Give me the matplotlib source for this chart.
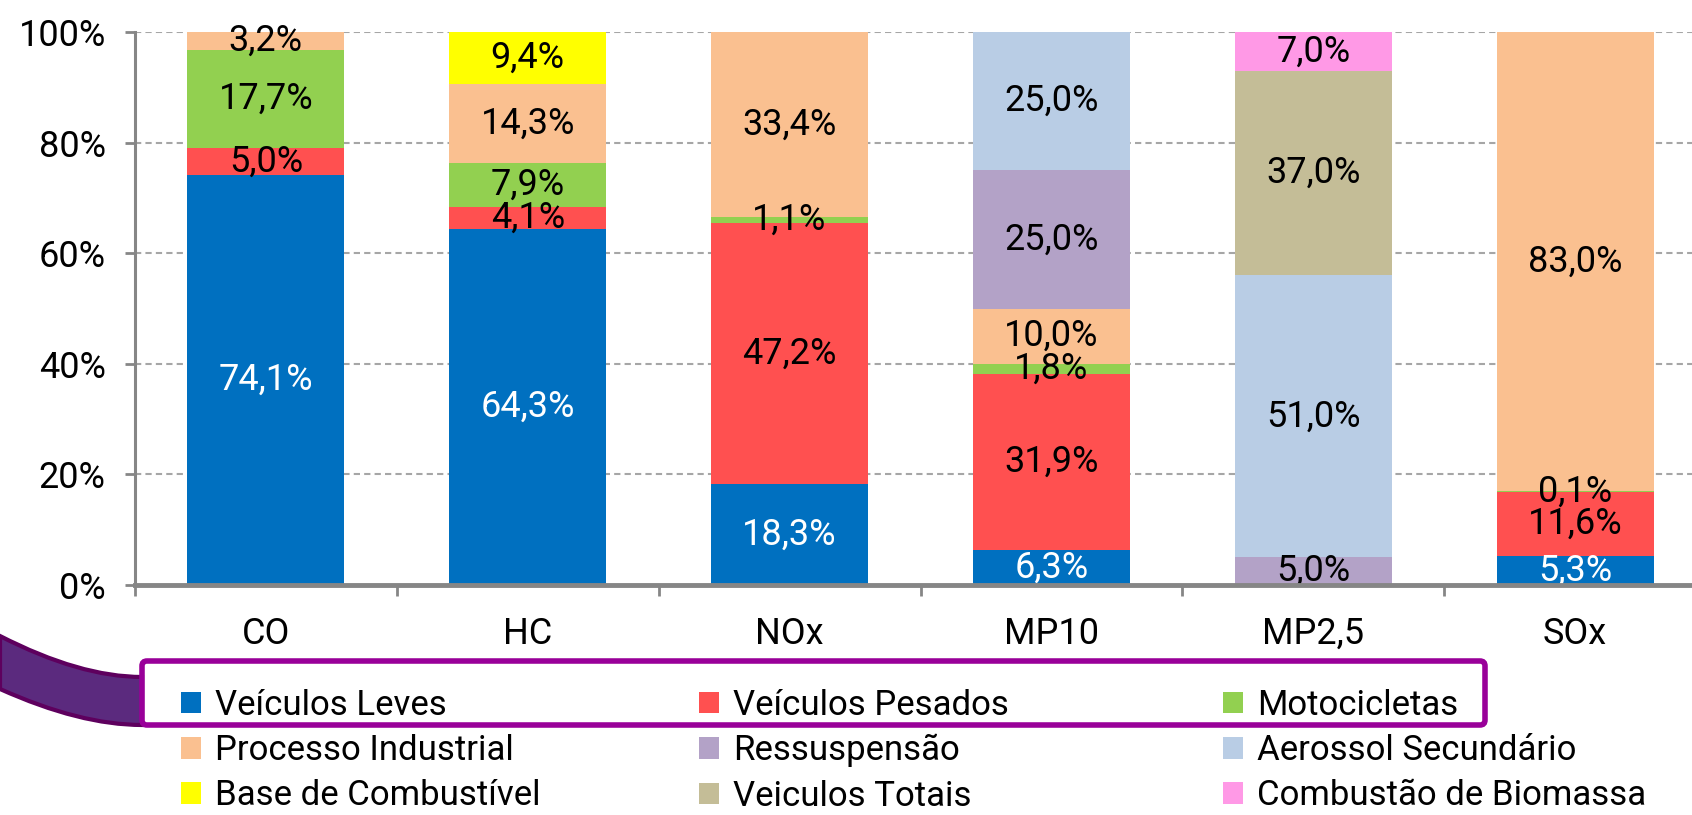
import matplotlib
matplotlib.use('Agg')
import matplotlib.pyplot as plt
from matplotlib.patches import Patch, FancyBboxPatch, PathPatch
from matplotlib.path import Path
from matplotlib.transforms import Affine2D
import numpy as np

plt.rcParams['font.family'] = ['Roboto', 'DejaVu Sans']

# Data (percent share per pollutant)
categories = ['CO', 'HC', 'NOx', 'MP10', 'MP2,5', 'SOx']
series_names = ['Veículos Leves', 'Veículos Pesados', 'Motocicletas',
                'Processo Industrial', 'Ressuspensão', 'Aerossol Secundário',
                'Base de Combustível', 'Veiculos Totais', 'Combustão de Biomassa']
leves = [74.1, 64.3, 18.3, 6.3, 0.0, 5.3]
pesados = [5.0, 4.1, 47.2, 31.9, 0.0, 11.6]
motos = [17.7, 7.9, 1.1, 1.8, 0.0, 0.1]
processo = [3.2, 14.3, 33.4, 10.0, 0.0, 83.0]
ressusp = [0.0, 0.0, 0.0, 25.0, 5.0, 0.0]
aerossol = [0.0, 0.0, 0.0, 25.0, 51.0, 0.0]
base_comb = [0.0, 9.4, 0.0, 0.0, 0.0, 0.0]
totais = [0.0, 0.0, 0.0, 0.0, 37.0, 0.0]
biomassa = [0.0, 0.0, 0.0, 0.0, 7.0, 0.0]
series_values = [leves, pesados, motos, processo, ressusp, aerossol,
                 base_comb, totais, biomassa]
colors = ['#0070C0', '#FF5050', '#92D050', '#FAC090', '#B3A2C7', '#B9CDE5',
          '#FFFF00', '#C4BD97', '#FF99E6']

FS = 26
W, H = 1692, 815
fig = plt.figure(figsize=(W / 100, H / 100), dpi=100)
ax = fig.add_axes([135 / W, 1 - 585 / H, (1706 - 135) / W, (585 - 32) / H])

x = np.arange(len(categories))
bottom = np.zeros(len(categories))
for name, vals, col in zip(series_names, series_values, colors):
    vals = np.array(vals)
    ax.bar(x, vals, 0.6, bottom=bottom, color=col, zorder=2, label=name)
    for xi, v, b in zip(x, vals, bottom):
        if v > 0:
            tc = 'white' if name == 'Veículos Leves' else 'black'
            ax.text(xi, b + v / 2, f'{v:.1f}%'.replace('.', ','), ha='center',
                    va='center', fontsize=FS, color=tc, zorder=3)
    bottom += vals

ax.set_xlim(-0.5, 5.5)
ax.set_ylim(0, 100)
ax.set_yticks(range(0, 101, 20))
ax.set_yticklabels([f'{v}%' for v in range(0, 101, 20)], fontsize=FS)
ax.set_xticks(x)
ax.set_xticklabels(categories, fontsize=FS)
ax.set_xticks(np.arange(-0.5, 6, 1), minor=True)
ax.tick_params(axis='x', which='major', length=0, pad=22)
ax.tick_params(axis='x', which='minor', length=8, width=2, color='#868686', direction='out')
ax.tick_params(axis='y', length=7, width=2, color='#868686', pad=14)
ax.yaxis.grid(True, linestyle=(0, (3, 2)), color='#A6A6A6', linewidth=1.5, zorder=0)
ax.set_axisbelow(True)
for s in ['top', 'right']:
    ax.spines[s].set_visible(False)
ax.spines['left'].set_color('#868686')
ax.spines['left'].set_linewidth(2.2)
ax.spines['bottom'].set_color('#868686')
ax.spines['bottom'].set_linewidth(3.5)
ax.spines['bottom'].set_zorder(4)

# legend, three columns placed by hand
col_x = [181, 699, 1223]
for j in range(3):
    idx = [j, j + 3, j + 6]
    handles = [Patch(facecolor=colors[i], label=series_names[i]) for i in idx]
    fig.legend(handles=handles, loc='upper left',
               bbox_to_anchor=(col_x[j] / W, 1 - 689 / H), frameon=False,
               fontsize=25, handlelength=0.57, handleheight=0.57,
               handletextpad=0.4, labelspacing=0.35, borderpad=0,
               borderaxespad=0)

# purple highlight box and band (pixel coordinates, y down)
px = Affine2D().scale(1 / W, -1 / H).translate(0, 1) + fig.transFigure
band = Path([(0, 636), (80, 677), (142, 677), (142, 725), (80, 725), (0, 689), (0, 636)],
            [Path.MOVETO, Path.CURVE3, Path.CURVE3, Path.LINETO, Path.CURVE3,
             Path.CURVE3, Path.CLOSEPOLY])
fig.patches.append(PathPatch(band, facecolor='#5B2A7E', edgecolor='#5E005E',
                             linewidth=3, transform=px))
fig.patches.append(FancyBboxPatch((142, 661), 1343, 64,
                                  boxstyle='round,pad=0,rounding_size=5',
                                  facecolor='none', edgecolor='#990099',
                                  linewidth=4, transform=px))

fig.savefig('out.png', dpi=100)
